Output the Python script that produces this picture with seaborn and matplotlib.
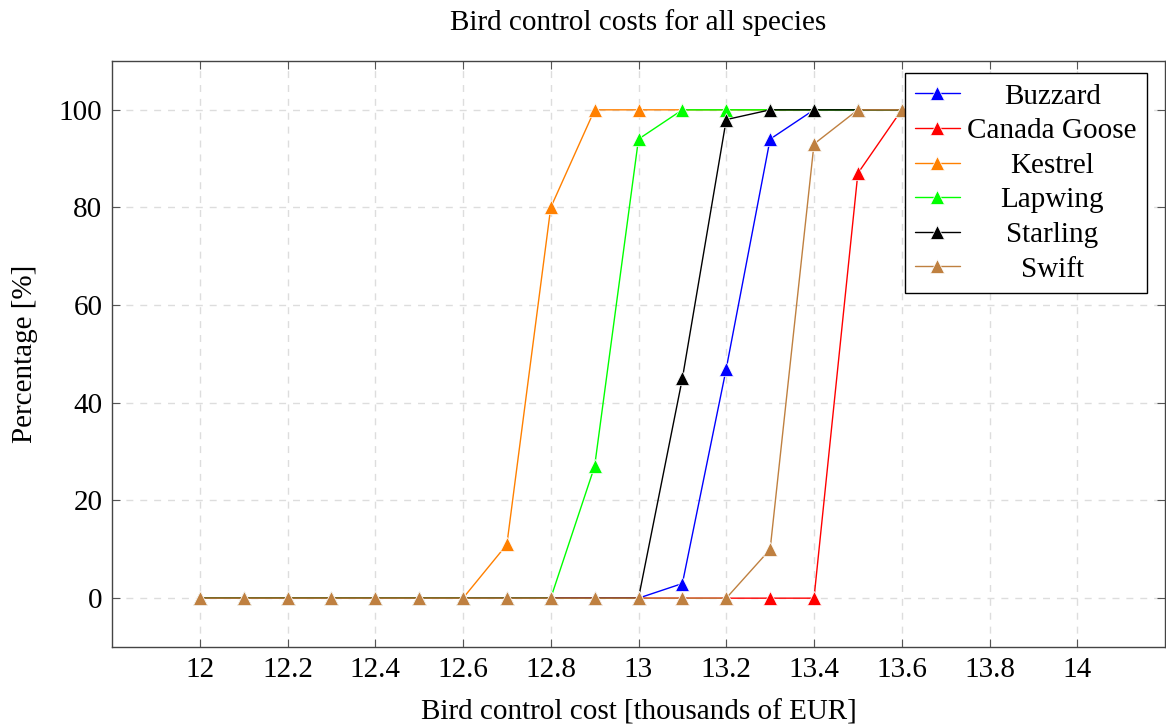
import numpy as np
import pandas as pd
import matplotlib
matplotlib.use("Agg")
import matplotlib.pyplot as plt
import seaborn as sns

# ---- data ----
costs = [12.0, 12.1, 12.2, 12.3, 12.4, 12.5, 12.6, 12.7, 12.8, 12.9,
         13.0, 13.1, 13.2, 13.3, 13.4, 13.5, 13.6]
buzzard = [0, 0, 0, 0, 0, 0, 0, 0, 0, 0, 0, 3, 47, 94, 100, 100, 100]
canada_goose = [0, 0, 0, 0, 0, 0, 0, 0, 0, 0, 0, 0, 0, 0, 0, 87, 100]
kestrel = [0, 0, 0, 0, 0, 0, 0, 11, 80, 100, 100, 100, 100, 100, 100, 100, 100]
lapwing = [0, 0, 0, 0, 0, 0, 0, 0, 0, 27, 94, 100, 100, 100, 100, 100, 100]
starling = [0, 0, 0, 0, 0, 0, 0, 0, 0, 0, 0, 45, 98, 100, 100, 100, 100]
swift = [0, 0, 0, 0, 0, 0, 0, 0, 0, 0, 0, 0, 0, 10, 93, 100, 100]

species = ["Buzzard", "Canada Goose", "Kestrel", "Lapwing", "Starling", "Swift"]
series = [buzzard, canada_goose, kestrel, lapwing, starling, swift]
colors = ["#0000ff", "#ff0000", "#ff8000", "#00ff00", "#000000", "#bf8040"]

xticks = [12, 12.2, 12.4, 12.6, 12.8, 13, 13.2, 13.4, 13.6, 13.8, 14]
xtick_labels = ["12", "12.2", "12.4", "12.6", "12.8", "13", "13.2", "13.4", "13.6", "13.8", "14"]
yticks = [0, 20, 40, 60, 80, 100]

df = pd.DataFrame({
    "cost": np.tile(costs, len(species)),
    "pct": np.concatenate(series),
    "species": np.repeat(species, len(costs)),
})

sns.set_theme(style="white")
plt.rcParams["font.family"] = ["Liberation Serif", "DejaVu Serif"]
plt.rcParams["text.color"] = "black"
plt.rcParams["axes.labelcolor"] = "black"
plt.rcParams["xtick.color"] = "black"
plt.rcParams["ytick.color"] = "black"

FS = 21

fig = plt.figure(figsize=(11.66, 7.26), dpi=100)
ax = fig.add_axes([112 / 1166, 79 / 726, 1053 / 1166, 586 / 726])

sns.lineplot(data=df, x="cost", y="pct", hue="species", hue_order=species,
             palette=dict(zip(species, colors)), marker="^", markersize=9.5,
             markeredgewidth=0.5, linewidth=1.0, ax=ax, legend=True)

ax.set_xlim(11.8, 14.2)
ax.set_ylim(-10, 110)
ax.set_xticks(xticks)
ax.set_xticklabels(xtick_labels)
ax.set_yticks(yticks)
ax.tick_params(axis="both", which="both", direction="in", length=6, width=0.8,
               labelsize=FS, color="#555555", labelcolor="black", top=True,
               right=True, bottom=True, left=True, pad=7)
ax.grid(True, linestyle=(0, (5, 5)), color="#dddddd", linewidth=1.0)
ax.set_axisbelow(True)
for s in ax.spines.values():
    s.set_color("#444444")
    s.set_linewidth(1.0)

ax.set_xlabel("Bird control cost [thousands of EUR]", fontsize=FS, labelpad=12)
ax.set_ylabel("Percentage [%]", fontsize=FS, labelpad=15)
ax.set_title("Bird control costs for all species", fontsize=FS, pad=22)

leg = ax.legend(loc="upper right", bbox_to_anchor=(0.983, 0.9795), borderaxespad=0,
                fontsize=FS, frameon=True, fancybox=False, framealpha=1,
                edgecolor="black", handlelength=1.55, handletextpad=0.25,
                labelspacing=0.28, borderpad=0.35)
leg.get_frame().set_linewidth(1.0)
for h in leg.legend_handles:
    h.set_markersize(9.5)

# centre the legend texts within their column (pgfplots style)
renderer = fig.canvas.get_renderer()
texts = leg.get_texts()
widths = [t.get_window_extent(renderer).width for t in texts]
wmax = max(widths)
for t, w in zip(texts, widths):
    t.set_x((wmax - w) / 2)

fig.savefig("out.png", dpi=100)
